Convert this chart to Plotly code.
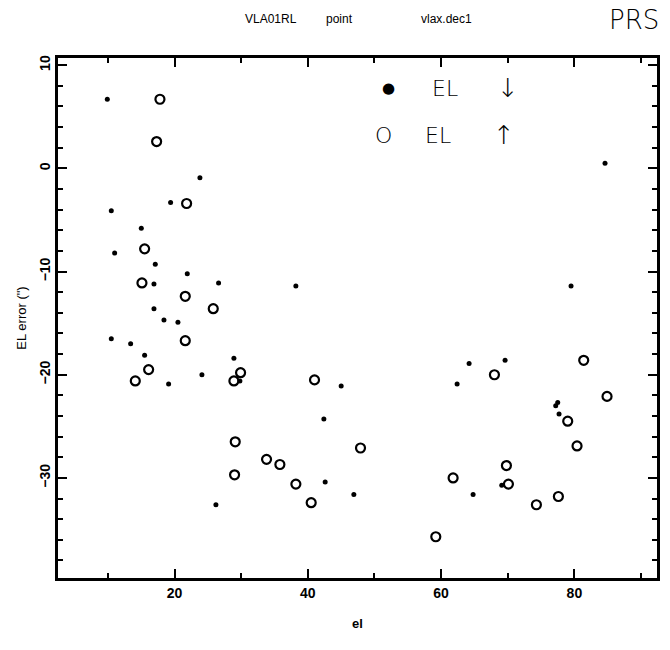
import plotly.graph_objects as go

# elevation (deg) and EL error (arcsec) for the two scan directions
el_down = [9.9, 23.8, 19.4, 10.5, 15.0, 11.0, 17.1, 21.9, 16.9, 26.6, 16.9, 18.4,
           20.5, 10.5, 13.4, 15.5, 28.9, 19.1, 24.1, 29.8, 26.2, 38.2, 45.0, 42.4,
           42.6, 46.9, 64.8, 62.4, 64.2, 69.6, 69.1, 77.2, 77.5, 77.7, 79.5, 84.6]
err_down = [6.7, -0.9, -3.3, -4.1, -5.8, -8.2, -9.3, -10.2, -11.2, -11.1, -13.6, -14.7,
            -14.9, -16.5, -17.0, -18.1, -18.4, -20.9, -20.0, -20.6, -32.6, -11.4, -21.1, -24.3,
            -30.4, -31.6, -31.6, -20.9, -18.9, -18.6, -30.7, -23.0, -22.7, -23.8, -11.4, 0.5]

el_up = [17.8, 17.3, 21.8, 15.5, 15.1, 21.6, 25.8, 21.6, 16.1, 29.9, 14.1, 28.9,
         29.1, 33.8, 29.0, 35.8, 38.2, 40.5, 41.0, 47.9, 59.2, 61.8, 68.0, 69.8,
         70.1, 74.3, 77.6, 79.0, 80.4, 81.4, 84.9]
err_up = [6.7, 2.6, -3.4, -7.8, -11.1, -12.4, -13.6, -16.7, -19.5, -19.8, -20.6, -20.6,
          -26.5, -28.2, -29.7, -28.7, -30.6, -32.4, -20.5, -27.1, -35.7, -30.0, -20.0, -28.8,
          -30.6, -32.6, -31.8, -24.5, -26.9, -18.6, -22.1]

x_major = [20, 40, 60, 80]
y_major = [-30, -20, -10, 0, 10]

fig = go.Figure()
fig.add_trace(go.Scatter(x=el_down, y=err_down, mode="markers",
                         marker=dict(symbol="circle", size=5, color="black"),
                         showlegend=False))
fig.add_trace(go.Scatter(x=el_up, y=err_up, mode="markers",
                         marker=dict(symbol="circle-open", size=9, color="black",
                                     line=dict(width=2.2, color="black")),
                         showlegend=False))

tickfont = dict(family="Liberation Sans", size=14, color="black", weight="bold")

fig.update_xaxes(range=[2.5, 92.4], tickvals=x_major, ticks="inside", ticklen=9,
                 tickwidth=1.5, tickcolor="black", showline=True, linewidth=2.5,
                 linecolor="black", mirror="allticks", showgrid=False, zeroline=False,
                 tickfont=tickfont,
                 minor=dict(tickvals=[10, 30, 50, 70, 90], ticks="inside", ticklen=5,
                            tickwidth=1.5, tickcolor="black", showgrid=False),
                 title=dict(text="el", font=dict(family="Liberation Sans", size=13,
                                                  color="black", weight="bold"),
                            standoff=20))
fig.update_yaxes(range=[-39.7, 10.7], tickvals=y_major, ticks="inside", ticklen=9,
                 tickwidth=1.5, tickcolor="black", showline=True, linewidth=2.5,
                 linecolor="black", mirror="allticks", showgrid=False, zeroline=False,
                 tickangle=-90, tickfont=tickfont,
                 minor=dict(dtick=2, ticks="inside", ticklen=5, tickwidth=1.5,
                            tickcolor="black", showgrid=False),
                 title=dict(text='EL error (")', font=dict(family="Liberation Sans",
                                                           size=13, color="black"),
                            standoff=8))

ann = []
def txt(x, y, t, size, family="Liberation Sans", weight="normal"):
    ann.append(dict(x=x, y=y, xref="paper", yref="paper", text=t, showarrow=False,
                    font=dict(family=family, size=size, color="black", weight=weight),
                    xanchor="center", yanchor="middle"))

# title pieces (paper coords relative to plot area)
W, H, L, T = 602.0, 520.0, 58.0, 58.0
def px(xp): return (xp - L) / W
def py(yp): return (T + H - yp) / H

txt(px(272), py(19), "VLA01RL", 12)
txt(px(341), py(19), "point", 12)
txt(px(448), py(19), "vlax.dec1", 12)
txt(px(637), py(20), "PRS", 26, family="DejaVu Sans", weight=200)

# handwritten legend
txt(px(390), py(88), "●", 15, family="DejaVu Sans")
txt(px(447), py(88), "EL", 22, family="DejaVu Sans", weight=200)
txt(px(510), py(88), "↓", 26, family="DejaVu Sans", weight=200)
txt(px(385), py(135), "O", 22, family="DejaVu Sans", weight=200)
txt(px(440), py(135), "EL", 22, family="DejaVu Sans", weight=200)
txt(px(506), py(135), "↑", 26, family="DejaVu Sans", weight=200)

fig.update_layout(width=670, height=650, margin=dict(l=58, r=10, t=58, b=72),
                  paper_bgcolor="white", plot_bgcolor="white", annotations=ann,
                  font=dict(family="Liberation Sans", color="black"))

fig.write_html("out.html")
